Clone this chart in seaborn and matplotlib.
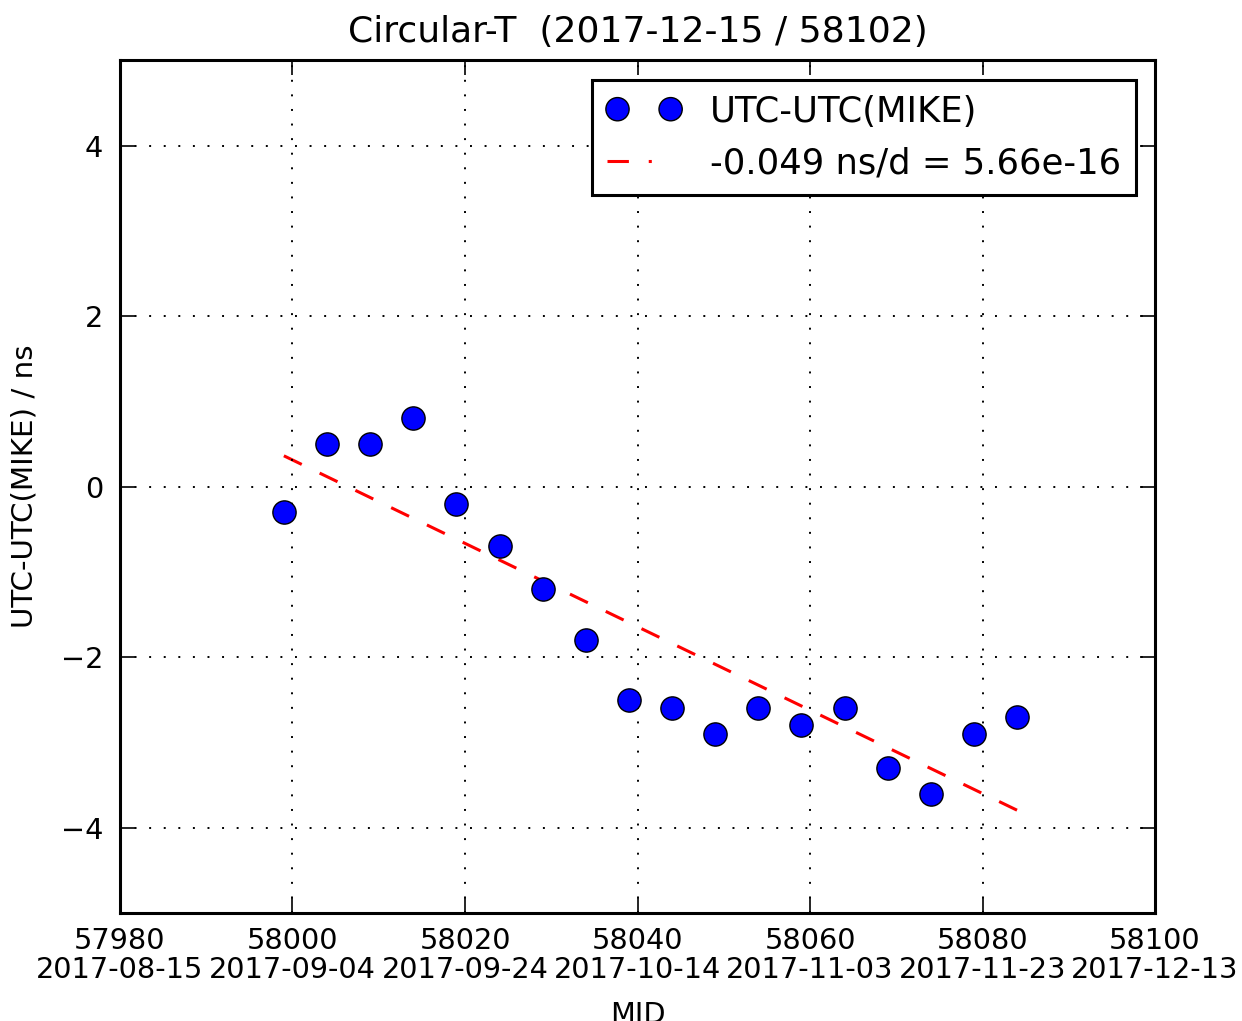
import numpy as np
import pandas as pd
import matplotlib
matplotlib.use("Agg")
import matplotlib.pyplot as plt
import seaborn as sns

# MJD of each Circular-T entry and UTC-UTC(MIKE) in ns
mjd = [57999, 58004, 58009, 58014, 58019, 58024, 58029, 58034, 58039,
       58044, 58049, 58054, 58059, 58064, 58069, 58074, 58079, 58084]
offset_ns = [-0.3, 0.5, 0.5, 0.8, -0.2, -0.7, -1.2, -1.8, -2.5,
             -2.6, -2.9, -2.6, -2.8, -2.6, -3.3, -3.6, -2.9, -2.7]

xtick_mjd = [57980, 58000, 58020, 58040, 58060, 58080, 58100]
xtick_dates = ["2017-08-15", "2017-09-04", "2017-09-24", "2017-10-14",
               "2017-11-03", "2017-11-23", "2017-12-13"]
ytick_vals = [-4, -2, 0, 2, 4]

series_label = "UTC-UTC(MIKE)"
fit_label = "-0.049 ns/d = 5.66e-16"
title = "Circular-T  (2017-12-15 / 58102)"

df = pd.DataFrame({"mjd": mjd, "offset": offset_ns})

# linear drift fit
p = np.polyfit(df["mjd"], df["offset"], 1)
fit_df = pd.DataFrame({"mjd": df["mjd"], "fit": np.polyval(p, df["mjd"])})

sns.set_style("ticks")
plt.rcParams["font.family"] = ["DejaVu Sans"]
plt.rcParams["text.color"] = "black"
plt.rcParams["axes.labelcolor"] = "black"
plt.rcParams["xtick.color"] = "black"
plt.rcParams["ytick.color"] = "black"

fig = plt.figure(figsize=(12.42, 10.21), dpi=100)
ax = fig.add_axes([0.0966, 0.1058, 0.8334, 0.8352])

sns.scatterplot(data=df, x="mjd", y="offset", ax=ax, marker="o", s=280,
                color="#0000ff", edgecolor="black", linewidth=1.0,
                label=series_label, zorder=3)
sns.lineplot(data=fit_df, x="mjd", y="fit", ax=ax, color="red",
             linewidth=2.2, linestyle="--", label=fit_label, zorder=2)
ax.lines[-1].set_dashes((6.5, 6.5))

ax.set_xlim(57980, 58100)
ax.set_ylim(-5, 5)
ax.set_xticks(xtick_mjd)
ax.set_xticklabels([f"{m}\n{d}" for m, d in zip(xtick_mjd, xtick_dates)],
                   fontsize=20.7, linespacing=1.05)
ax.set_yticks(ytick_vals)
ax.set_yticklabels([f"{v}".replace("-", "\u2212") for v in ytick_vals],
                   fontsize=20.7)

ax.tick_params(direction="in", length=11, width=1.2, top=True, right=True,
               color="black")
ax.tick_params(axis="x", pad=10)
ax.tick_params(axis="y", pad=12)
for sp in ax.spines.values():
    sp.set_visible(True)
    sp.set_linewidth(2.2)
    sp.set_color("black")

ax.grid(True, color="black", linestyle=(0, (1, 6.5)), linewidth=1.4)
ax.set_axisbelow(False)

ax.set_xlabel("MJD", fontsize=20.7, labelpad=12)
ax.set_ylabel("UTC-UTC(MIKE) / ns", fontsize=21.2, labelpad=16)
ax.set_title(title, fontsize=26, pad=13)

leg = ax.legend(loc="upper right", scatterpoints=2, scatteryoffsets=[0.5],
                fontsize=25.5, frameon=True, fancybox=False,
                borderaxespad=0.55, handlelength=2.1, handletextpad=0.8,
                borderpad=0.42, labelspacing=0.5)
leg.get_frame().set_edgecolor("black")
leg.get_frame().set_linewidth(2.2)
leg.get_frame().set_alpha(1.0)
# legend dash shows a dash followed by a dot, as in the classic look
leg.get_lines()[0].set_dashes((7, 6.5, 1, 100))

fig.savefig("out.png", dpi=100)
